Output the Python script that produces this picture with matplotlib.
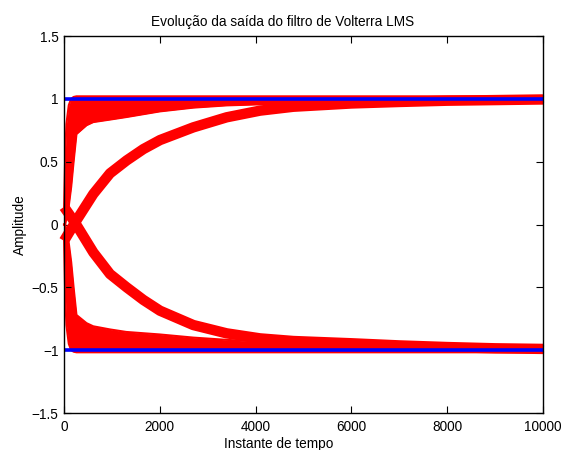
import matplotlib
matplotlib.use("Agg")
import matplotlib.pyplot as plt
import numpy as np

plt.rcParams['font.family'] = ['Liberation Sans', 'DejaVu Sans']

# Time instants (samples) at which the fast outputs are tabulated
t_fast = [0, 25, 50, 100, 150, 200, 260, 470, 610, 960, 1300, 2000,
          2700, 3400, 4000, 6000, 8000, 10000]
# Fast-converging outputs: envelope of the noisy band (towards +1 and -1)
up_fast_lo = [0.00, 0.00, 0.05, 0.15, 0.30, 0.50, 0.72, 0.79, 0.815, 0.835,
              0.855, 0.90, 0.93, 0.948, 0.955, 0.968, 0.974, 0.976]
up_fast_hi = [0.10, 0.55, 0.80, 0.95, 1.00, 1.015, 1.02, 1.02, 1.02, 1.02,
              1.02, 1.02, 1.02, 1.02, 1.02, 1.02, 1.02, 1.02]
dn_fast_hi = [0.00, 0.00, -0.05, -0.15, -0.30, -0.50, -0.72, -0.785, -0.81,
              -0.835, -0.855, -0.875, -0.90, -0.918, -0.93, -0.948, -0.96,
              -0.966]
dn_fast_lo = [-0.10, -0.55, -0.80, -0.95, -1.00, -1.012, -1.017, -1.017,
              -1.017, -1.017, -1.017, -1.017, -1.017, -1.017, -1.017, -1.017,
              -1.017, -1.017]

# Slowly converging outputs (centre of each trace)
t_slow = [0, 230, 612, 960, 1308, 1656, 2004, 2699, 3395, 4091, 4787, 6000,
          7000, 8000, 9000, 10000]
up_slow = [-0.13, 0.015, 0.243, 0.407, 0.51, 0.60, 0.672, 0.773, 0.853,
           0.906, 0.937, 0.963, 0.975, 0.985, 0.99, 0.995]
dn_slow = [0.14, 0.015, -0.222, -0.394, -0.50, -0.60, -0.686, -0.80, -0.866,
           -0.906, -0.927, -0.945, -0.962, -0.975, -0.985, -0.99]

# Desired signal levels
t_ref = [0, 10000]
ref_levels = [1, -1]

fig = plt.figure(figsize=(5.63, 4.5), dpi=100)
ax = fig.add_axes([0.1137, 0.0822, 0.8508, 0.8378])

red = (1, 0, 0)
blue = (0, 0, 1)

# fast, noisy bands
for lo, hi in ((up_fast_lo, up_fast_hi), (dn_fast_lo, dn_fast_hi)):
    ax.fill_between(t_fast, lo, hi, color=red, lw=0, clip_on=False)
    for edge in (lo, hi):
        ax.plot(t_fast, edge, color=red, lw=1.5, clip_on=False,
                solid_joinstyle='round')

# slow traces
for c in (up_slow, dn_slow):
    ax.plot(t_slow, c, color=red, lw=7.5, solid_capstyle='butt',
            solid_joinstyle='round', clip_on=False)

for lev in ref_levels:
    ax.plot(t_ref, [lev, lev], color=blue, lw=2.6, solid_capstyle='butt')

ax.set_xlim(0, 10000)
ax.set_ylim(-1.5, 1.5)
ax.set_xticks(np.arange(0, 10001, 2000))
ax.set_yticks([-1.5, -1, -0.5, 0, 0.5, 1, 1.5])
ax.set_yticklabels(['\u22121.5', '\u22121', '\u22120.5', '0', '0.5', '1', '1.5'])
ax.tick_params(direction='in', top=True, right=True, length=5, width=0.8,
               labelsize=9.8)
ax.tick_params(axis='x', pad=5)
ax.tick_params(axis='y', pad=4)
for s in ax.spines.values():
    s.set_linewidth(1.0)
    s.set_zorder(5)

ax.set_title('Evolução da saída do filtro de Volterra LMS', fontsize=9.8,
             pad=7, x=0.456)
ax.set_xlabel('Instante de tempo', fontsize=9.8, labelpad=2, x=0.449)
ax.set_ylabel('Amplitude', fontsize=9.8, labelpad=3)

fig.savefig('out.png', dpi=100)
